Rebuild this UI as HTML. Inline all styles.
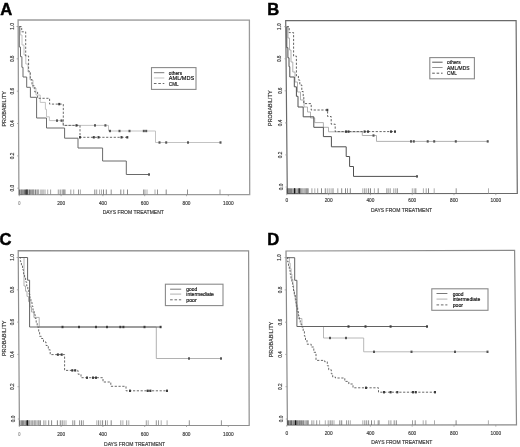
<!DOCTYPE html>
<html><head><meta charset="utf-8"><style>
html,body{margin:0;padding:0;background:#fff;}
body{width:520px;height:447px;overflow:hidden;}
svg{display:block;font-family:"Liberation Sans",sans-serif;filter:blur(0.35px);}
</style></head><body>
<svg width="520" height="447" viewBox="0 0 520 447">
<rect x="0" y="0" width="520" height="447" fill="#fff"/>
<path d="M18.1 19.9L249.4 20.1L249.7 194.6L18.9 194.6Z" fill="none" stroke="#9a9a9a" stroke-width="1.30" stroke-linejoin="miter"/>
<line x1="17.3" y1="188.2" x2="18.9" y2="188.2" stroke="#999" stroke-width="0.8"/>
<text x="14.3" y="188.2" font-size="5.50" text-anchor="middle" fill="#3a3a3a" stroke="#3a3a3a" stroke-width="0.18" font-weight="normal" transform="rotate(-90 14.3 188.2)" textLength="6.5" lengthAdjust="spacingAndGlyphs">0.0</text>
<line x1="17.1" y1="155.9" x2="18.7" y2="155.9" stroke="#999" stroke-width="0.8"/>
<text x="14.1" y="155.9" font-size="5.50" text-anchor="middle" fill="#3a3a3a" stroke="#3a3a3a" stroke-width="0.18" font-weight="normal" transform="rotate(-90 14.1 155.9)" textLength="6.5" lengthAdjust="spacingAndGlyphs">0.2</text>
<line x1="17.0" y1="123.5" x2="18.6" y2="123.5" stroke="#999" stroke-width="0.8"/>
<text x="14.0" y="123.5" font-size="5.50" text-anchor="middle" fill="#3a3a3a" stroke="#3a3a3a" stroke-width="0.18" font-weight="normal" transform="rotate(-90 14.0 123.5)" textLength="6.5" lengthAdjust="spacingAndGlyphs">0.4</text>
<line x1="16.8" y1="91.2" x2="18.4" y2="91.2" stroke="#999" stroke-width="0.8"/>
<text x="13.8" y="91.2" font-size="5.50" text-anchor="middle" fill="#3a3a3a" stroke="#3a3a3a" stroke-width="0.18" font-weight="normal" transform="rotate(-90 13.8 91.2)" textLength="6.5" lengthAdjust="spacingAndGlyphs">0.6</text>
<line x1="16.7" y1="58.8" x2="18.3" y2="58.8" stroke="#999" stroke-width="0.8"/>
<text x="13.7" y="58.8" font-size="5.50" text-anchor="middle" fill="#3a3a3a" stroke="#3a3a3a" stroke-width="0.18" font-weight="normal" transform="rotate(-90 13.7 58.8)" textLength="6.5" lengthAdjust="spacingAndGlyphs">0.8</text>
<line x1="16.5" y1="26.5" x2="18.1" y2="26.5" stroke="#999" stroke-width="0.8"/>
<text x="13.5" y="26.5" font-size="5.50" text-anchor="middle" fill="#3a3a3a" stroke="#3a3a3a" stroke-width="0.18" font-weight="normal" transform="rotate(-90 13.5 26.5)" textLength="6.5" lengthAdjust="spacingAndGlyphs">1.0</text>
<line x1="19.3" y1="194.6" x2="19.3" y2="196.2" stroke="#999" stroke-width="0.8"/>
<text x="19.3" y="204.5" font-size="5.20" text-anchor="middle" fill="#888" stroke="#888" stroke-width="0.18" font-weight="normal" textLength="2.2" lengthAdjust="spacingAndGlyphs">0</text>
<line x1="61.1" y1="194.6" x2="61.1" y2="196.2" stroke="#999" stroke-width="0.8"/>
<text x="61.1" y="204.5" font-size="5.80" text-anchor="middle" fill="#3a3a3a" stroke="#3a3a3a" stroke-width="0.18" font-weight="normal" textLength="7.9" lengthAdjust="spacingAndGlyphs">200</text>
<line x1="102.9" y1="194.6" x2="102.9" y2="196.2" stroke="#999" stroke-width="0.8"/>
<text x="102.9" y="204.5" font-size="5.80" text-anchor="middle" fill="#3a3a3a" stroke="#3a3a3a" stroke-width="0.18" font-weight="normal" textLength="7.9" lengthAdjust="spacingAndGlyphs">400</text>
<line x1="144.7" y1="194.6" x2="144.7" y2="196.2" stroke="#999" stroke-width="0.8"/>
<text x="144.7" y="204.5" font-size="5.80" text-anchor="middle" fill="#3a3a3a" stroke="#3a3a3a" stroke-width="0.18" font-weight="normal" textLength="7.9" lengthAdjust="spacingAndGlyphs">600</text>
<line x1="186.5" y1="194.6" x2="186.5" y2="196.2" stroke="#999" stroke-width="0.8"/>
<text x="186.5" y="204.5" font-size="5.80" text-anchor="middle" fill="#3a3a3a" stroke="#3a3a3a" stroke-width="0.18" font-weight="normal" textLength="7.9" lengthAdjust="spacingAndGlyphs">800</text>
<line x1="228.3" y1="194.6" x2="228.3" y2="196.2" stroke="#999" stroke-width="0.8"/>
<text x="228.3" y="204.5" font-size="5.80" text-anchor="middle" fill="#3a3a3a" stroke="#3a3a3a" stroke-width="0.18" font-weight="normal" textLength="10.6" lengthAdjust="spacingAndGlyphs">1000</text>
<text x="133.3" y="213.6" font-size="5.40" text-anchor="middle" fill="#3a3a3a" stroke="#3a3a3a" stroke-width="0.18" font-weight="normal" textLength="61.2" lengthAdjust="spacingAndGlyphs">DAYS FROM TREATMENT</text>
<text x="5.6" y="108.8" font-size="5.20" text-anchor="middle" fill="#3a3a3a" stroke="#3a3a3a" stroke-width="0.18" font-weight="normal" transform="rotate(-90 5.6 108.8)" textLength="35.5" lengthAdjust="spacingAndGlyphs">PROBABILITY</text>
<text x="0.2" y="14.6" font-size="16.6" font-weight="bold" fill="#000" stroke="#000" stroke-width="0.45">A</text>
<line x1="19.6" y1="189.5" x2="19.6" y2="194.6" stroke="#555" stroke-width="0.90"/>
<line x1="21.0" y1="189.5" x2="21.0" y2="194.6" stroke="#444" stroke-width="0.90"/>
<line x1="22.1" y1="189.5" x2="22.1" y2="194.6" stroke="#444" stroke-width="0.90"/>
<line x1="23.3" y1="189.5" x2="23.3" y2="194.6" stroke="#666" stroke-width="0.90"/>
<line x1="24.5" y1="189.5" x2="24.5" y2="194.6" stroke="#666" stroke-width="0.90"/>
<line x1="25.5" y1="189.5" x2="25.5" y2="194.6" stroke="#444" stroke-width="0.90"/>
<line x1="26.7" y1="189.5" x2="26.7" y2="194.6" stroke="#444" stroke-width="0.90"/>
<line x1="27.9" y1="189.5" x2="27.9" y2="194.6" stroke="#666" stroke-width="0.90"/>
<line x1="29.3" y1="189.5" x2="29.3" y2="194.6" stroke="#444" stroke-width="0.90"/>
<line x1="30.5" y1="189.5" x2="30.5" y2="194.6" stroke="#888" stroke-width="0.90"/>
<line x1="31.5" y1="189.5" x2="31.5" y2="194.6" stroke="#999" stroke-width="0.90"/>
<line x1="32.4" y1="189.5" x2="32.4" y2="194.6" stroke="#888" stroke-width="0.90"/>
<line x1="33.3" y1="189.5" x2="33.3" y2="194.6" stroke="#666" stroke-width="0.90"/>
<line x1="34.2" y1="189.5" x2="34.2" y2="194.6" stroke="#aaa" stroke-width="0.90"/>
<line x1="35.6" y1="189.5" x2="35.6" y2="194.6" stroke="#666" stroke-width="0.90"/>
<line x1="36.8" y1="189.5" x2="36.8" y2="194.6" stroke="#aaa" stroke-width="0.90"/>
<line x1="37.8" y1="189.5" x2="37.8" y2="194.6" stroke="#888" stroke-width="0.90"/>
<line x1="38.7" y1="189.5" x2="38.7" y2="194.6" stroke="#999" stroke-width="0.90"/>
<line x1="41.0" y1="189.5" x2="41.0" y2="194.6" stroke="#6a6a6a" stroke-width="0.80"/>
<line x1="43.0" y1="189.5" x2="43.0" y2="194.6" stroke="#6a6a6a" stroke-width="0.80"/>
<line x1="45.0" y1="189.5" x2="45.0" y2="194.6" stroke="#888" stroke-width="0.80"/>
<line x1="47.7" y1="189.5" x2="47.7" y2="194.6" stroke="#999" stroke-width="0.80"/>
<line x1="50.6" y1="189.5" x2="50.6" y2="194.6" stroke="#888" stroke-width="0.80"/>
<line x1="58.3" y1="189.5" x2="58.3" y2="194.6" stroke="#888" stroke-width="0.80"/>
<line x1="60.2" y1="189.5" x2="60.2" y2="194.6" stroke="#6a6a6a" stroke-width="0.80"/>
<line x1="62.1" y1="189.5" x2="62.1" y2="194.6" stroke="#999" stroke-width="0.80"/>
<line x1="63.1" y1="189.5" x2="63.1" y2="194.6" stroke="#777" stroke-width="0.80"/>
<line x1="64.0" y1="189.5" x2="64.0" y2="194.6" stroke="#6a6a6a" stroke-width="0.80"/>
<line x1="65.0" y1="189.5" x2="65.0" y2="194.6" stroke="#777" stroke-width="0.80"/>
<line x1="70.8" y1="189.5" x2="70.8" y2="194.6" stroke="#888" stroke-width="0.80"/>
<line x1="73.7" y1="189.5" x2="73.7" y2="194.6" stroke="#999" stroke-width="0.80"/>
<line x1="78.5" y1="189.5" x2="78.5" y2="194.6" stroke="#777" stroke-width="0.80"/>
<line x1="80.4" y1="189.5" x2="80.4" y2="194.6" stroke="#999" stroke-width="0.80"/>
<line x1="94.8" y1="189.5" x2="94.8" y2="194.6" stroke="#6a6a6a" stroke-width="0.80"/>
<line x1="96.7" y1="189.5" x2="96.7" y2="194.6" stroke="#888" stroke-width="0.80"/>
<line x1="99.6" y1="189.5" x2="99.6" y2="194.6" stroke="#999" stroke-width="0.80"/>
<line x1="101.5" y1="189.5" x2="101.5" y2="194.6" stroke="#999" stroke-width="0.80"/>
<line x1="103.5" y1="189.5" x2="103.5" y2="194.6" stroke="#6a6a6a" stroke-width="0.80"/>
<line x1="106.3" y1="189.5" x2="106.3" y2="194.6" stroke="#6a6a6a" stroke-width="0.80"/>
<line x1="111.2" y1="189.5" x2="111.2" y2="194.6" stroke="#777" stroke-width="0.80"/>
<line x1="120.8" y1="189.5" x2="120.8" y2="194.6" stroke="#6a6a6a" stroke-width="0.80"/>
<line x1="123.7" y1="189.5" x2="123.7" y2="194.6" stroke="#888" stroke-width="0.80"/>
<line x1="127.5" y1="189.5" x2="127.5" y2="194.6" stroke="#6a6a6a" stroke-width="0.80"/>
<line x1="143.7" y1="189.5" x2="143.7" y2="194.6" stroke="#6a6a6a" stroke-width="0.80"/>
<line x1="145.0" y1="189.5" x2="145.0" y2="194.6" stroke="#888" stroke-width="0.80"/>
<line x1="147.0" y1="189.5" x2="147.0" y2="194.6" stroke="#999" stroke-width="0.80"/>
<line x1="155.0" y1="189.5" x2="155.0" y2="194.6" stroke="#999" stroke-width="0.80"/>
<line x1="157.5" y1="189.5" x2="157.5" y2="194.6" stroke="#777" stroke-width="0.80"/>
<line x1="166.2" y1="189.5" x2="166.2" y2="194.6" stroke="#6a6a6a" stroke-width="0.80"/>
<line x1="187.5" y1="189.5" x2="187.5" y2="194.6" stroke="#777" stroke-width="0.80"/>
<line x1="220.0" y1="189.5" x2="220.0" y2="194.6" stroke="#888" stroke-width="0.80"/>
<line x1="27.0" y1="189.5" x2="27.0" y2="194.6" stroke="#111" stroke-width="1.10"/>
<path d="M19.3 26.5L20.3 26.5L20.3 35.0L22.0 35.0L22.0 45.0L24.0 45.0L24.0 55.0L25.8 55.0L25.8 64.0L28.0 64.0L28.0 72.0L30.0 72.0L30.0 80.0L33.0 80.0L33.0 88.0L36.0 88.0L36.0 95.0L40.2 95.0L40.2 102.4L45.4 102.4L45.4 109.3L46.5 109.3L46.5 116.8L49.4 116.8L49.4 120.6L63.0 120.6L63.0 125.4L108.5 125.4L108.5 131.0L155.5 131.0L155.5 142.5L221.0 142.5" fill="none" stroke="#bcbcbc" stroke-width="0.90"/>
<path d="M19.3 26.5L19.3 47.0L20.5 47.0L20.5 56.7L21.9 56.7L21.9 67.3L23.0 67.3L23.0 77.0L26.7 77.0L26.7 87.3L30.4 87.3L30.4 97.3L36.6 97.3L36.6 118.0L46.5 118.0L46.5 128.0L64.6 128.0L64.6 138.2L78.0 138.2L78.0 148.0L102.6 148.0L102.6 161.0L126.3 161.0L126.3 174.5L149.0 174.5" fill="none" stroke="#6a6a6a" stroke-width="1.00"/>
<path d="M19.3 26.5L21.7 26.5L21.7 31.8L25.7 31.8L25.7 56.0L28.6 56.0L28.6 71.3L30.3 71.3L30.3 79.6L32.0 79.6L32.0 85.8L34.8 85.8L34.8 92.0L37.6 92.0L37.6 98.3L49.6 98.3L49.6 104.1L63.3 104.1L63.3 125.4L80.0 125.4L80.0 137.3L127.5 137.3" fill="none" stroke="#585858" stroke-width="0.90" stroke-dasharray="2.2 1.6"/>
<rect x="58.2" y="102.9" width="2.0" height="2.4" fill="#3c3c3c"/>
<rect x="75.5" y="124.2" width="2.0" height="2.4" fill="#3c3c3c"/>
<rect x="79.0" y="136.1" width="2.0" height="2.4" fill="#3c3c3c"/>
<rect x="92.8" y="136.1" width="2.0" height="2.4" fill="#3c3c3c"/>
<rect x="97.5" y="136.1" width="2.0" height="2.4" fill="#3c3c3c"/>
<rect x="120.5" y="136.1" width="2.0" height="2.4" fill="#3c3c3c"/>
<rect x="126.3" y="136.1" width="2.0" height="2.4" fill="#3c3c3c"/>
<rect x="56.0" y="119.4" width="2.0" height="2.4" fill="#555"/>
<rect x="60.5" y="119.4" width="2.0" height="2.4" fill="#555"/>
<rect x="94.0" y="124.2" width="2.0" height="2.4" fill="#555"/>
<rect x="104.4" y="124.2" width="2.0" height="2.4" fill="#555"/>
<rect x="109.0" y="129.8" width="2.0" height="2.4" fill="#555"/>
<rect x="118.5" y="129.8" width="2.0" height="2.4" fill="#555"/>
<rect x="128.5" y="129.8" width="2.0" height="2.4" fill="#555"/>
<rect x="142.8" y="129.8" width="2.0" height="2.4" fill="#555"/>
<rect x="145.2" y="129.8" width="2.0" height="2.4" fill="#555"/>
<rect x="158.5" y="141.3" width="2.0" height="2.4" fill="#555"/>
<rect x="165.2" y="141.3" width="2.0" height="2.4" fill="#555"/>
<rect x="187.0" y="141.3" width="2.0" height="2.4" fill="#555"/>
<rect x="219.5" y="141.3" width="2.0" height="2.4" fill="#555"/>
<rect x="148.0" y="173.3" width="2.0" height="2.4" fill="#555"/>
<rect x="151.5" y="67.6" width="44.5" height="21.8" fill="#fff" stroke="#8a8a8a" stroke-width="1.1"/>
<line x1="153.9" y1="72.7" x2="164.3" y2="72.7" stroke="#6a6a6a" stroke-width="0.90"/>
<text x="168.8" y="74.7" font-size="6.00" text-anchor="start" fill="#111" stroke="#111" stroke-width="0.18" font-weight="normal" textLength="13.3" lengthAdjust="spacingAndGlyphs">others</text>
<line x1="153.9" y1="78.0" x2="164.3" y2="78.0" stroke="#bcbcbc" stroke-width="0.90"/>
<text x="168.8" y="80.0" font-size="6.00" text-anchor="start" fill="#111" stroke="#111" stroke-width="0.18" font-weight="normal" textLength="25.4" lengthAdjust="spacingAndGlyphs">AML/MDS</text>
<line x1="153.9" y1="83.5" x2="164.3" y2="83.5" stroke="#585858" stroke-width="0.90" stroke-dasharray="2.6 1.8"/>
<text x="168.8" y="85.5" font-size="6.00" text-anchor="start" fill="#111" stroke="#111" stroke-width="0.18" font-weight="normal" textLength="9.8" lengthAdjust="spacingAndGlyphs">CML</text>
<path d="M285.7 20.5L516.1 20.6L517.3 193.5L287.3 193.6Z" fill="none" stroke="#6a6a6a" stroke-width="1.20" stroke-linejoin="miter"/>
<line x1="285.6" y1="187.0" x2="287.2" y2="187.0" stroke="#999" stroke-width="0.8"/>
<text x="282.6" y="187.0" font-size="5.50" text-anchor="middle" fill="#3a3a3a" stroke="#3a3a3a" stroke-width="0.18" font-weight="normal" transform="rotate(-90 282.6 187.0)" textLength="6.5" lengthAdjust="spacingAndGlyphs">0.0</text>
<line x1="285.3" y1="154.9" x2="286.9" y2="154.9" stroke="#999" stroke-width="0.8"/>
<text x="282.3" y="154.9" font-size="5.50" text-anchor="middle" fill="#3a3a3a" stroke="#3a3a3a" stroke-width="0.18" font-weight="normal" transform="rotate(-90 282.3 154.9)" textLength="6.5" lengthAdjust="spacingAndGlyphs">0.2</text>
<line x1="285.0" y1="122.9" x2="286.6" y2="122.9" stroke="#999" stroke-width="0.8"/>
<text x="282.0" y="122.9" font-size="5.50" text-anchor="middle" fill="#3a3a3a" stroke="#3a3a3a" stroke-width="0.18" font-weight="normal" transform="rotate(-90 282.0 122.9)" textLength="6.5" lengthAdjust="spacingAndGlyphs">0.4</text>
<line x1="284.7" y1="90.8" x2="286.3" y2="90.8" stroke="#999" stroke-width="0.8"/>
<text x="281.7" y="90.8" font-size="5.50" text-anchor="middle" fill="#3a3a3a" stroke="#3a3a3a" stroke-width="0.18" font-weight="normal" transform="rotate(-90 281.7 90.8)" textLength="6.5" lengthAdjust="spacingAndGlyphs">0.6</text>
<line x1="284.5" y1="58.8" x2="286.1" y2="58.8" stroke="#999" stroke-width="0.8"/>
<text x="281.5" y="58.8" font-size="5.50" text-anchor="middle" fill="#3a3a3a" stroke="#3a3a3a" stroke-width="0.18" font-weight="normal" transform="rotate(-90 281.5 58.8)" textLength="6.5" lengthAdjust="spacingAndGlyphs">0.8</text>
<line x1="284.2" y1="26.7" x2="285.8" y2="26.7" stroke="#999" stroke-width="0.8"/>
<text x="281.2" y="26.7" font-size="5.50" text-anchor="middle" fill="#3a3a3a" stroke="#3a3a3a" stroke-width="0.18" font-weight="normal" transform="rotate(-90 281.2 26.7)" textLength="6.5" lengthAdjust="spacingAndGlyphs">1.0</text>
<line x1="286.8" y1="193.6" x2="286.8" y2="195.2" stroke="#999" stroke-width="0.8"/>
<text x="286.8" y="202.3" font-size="5.80" text-anchor="middle" fill="#3a3a3a" stroke="#3a3a3a" stroke-width="0.18" font-weight="normal" textLength="2.7" lengthAdjust="spacingAndGlyphs">0</text>
<line x1="328.6" y1="193.6" x2="328.6" y2="195.2" stroke="#999" stroke-width="0.8"/>
<text x="328.6" y="202.3" font-size="5.80" text-anchor="middle" fill="#3a3a3a" stroke="#3a3a3a" stroke-width="0.18" font-weight="normal" textLength="7.9" lengthAdjust="spacingAndGlyphs">200</text>
<line x1="370.4" y1="193.6" x2="370.4" y2="195.2" stroke="#999" stroke-width="0.8"/>
<text x="370.4" y="202.3" font-size="5.80" text-anchor="middle" fill="#3a3a3a" stroke="#3a3a3a" stroke-width="0.18" font-weight="normal" textLength="7.9" lengthAdjust="spacingAndGlyphs">400</text>
<line x1="412.2" y1="193.6" x2="412.2" y2="195.2" stroke="#999" stroke-width="0.8"/>
<text x="412.2" y="202.3" font-size="5.80" text-anchor="middle" fill="#3a3a3a" stroke="#3a3a3a" stroke-width="0.18" font-weight="normal" textLength="7.9" lengthAdjust="spacingAndGlyphs">600</text>
<line x1="454.0" y1="193.6" x2="454.0" y2="195.2" stroke="#999" stroke-width="0.8"/>
<text x="454.0" y="202.3" font-size="5.80" text-anchor="middle" fill="#3a3a3a" stroke="#3a3a3a" stroke-width="0.18" font-weight="normal" textLength="7.9" lengthAdjust="spacingAndGlyphs">800</text>
<line x1="495.8" y1="193.6" x2="495.8" y2="195.2" stroke="#999" stroke-width="0.8"/>
<text x="495.8" y="202.3" font-size="5.80" text-anchor="middle" fill="#3a3a3a" stroke="#3a3a3a" stroke-width="0.18" font-weight="normal" textLength="10.6" lengthAdjust="spacingAndGlyphs">1000</text>
<text x="401.5" y="212.3" font-size="5.40" text-anchor="middle" fill="#3a3a3a" stroke="#3a3a3a" stroke-width="0.18" font-weight="normal" textLength="61.2" lengthAdjust="spacingAndGlyphs">DAYS FROM TREATMENT</text>
<text x="271.9" y="108.2" font-size="5.20" text-anchor="middle" fill="#3a3a3a" stroke="#3a3a3a" stroke-width="0.18" font-weight="normal" transform="rotate(-90 271.9 108.2)" textLength="35.5" lengthAdjust="spacingAndGlyphs">PROBABILITY</text>
<text x="267.3" y="15.0" font-size="16.6" font-weight="bold" fill="#000" stroke="#000" stroke-width="0.45">B</text>
<line x1="287.2" y1="188.3" x2="287.2" y2="193.6" stroke="#444" stroke-width="0.90"/>
<line x1="288.1" y1="188.3" x2="288.1" y2="193.6" stroke="#444" stroke-width="0.90"/>
<line x1="289.2" y1="188.3" x2="289.2" y2="193.6" stroke="#555" stroke-width="0.90"/>
<line x1="290.3" y1="188.3" x2="290.3" y2="193.6" stroke="#555" stroke-width="0.90"/>
<line x1="291.7" y1="188.3" x2="291.7" y2="193.6" stroke="#555" stroke-width="0.90"/>
<line x1="293.1" y1="188.3" x2="293.1" y2="193.6" stroke="#444" stroke-width="0.90"/>
<line x1="294.5" y1="188.3" x2="294.5" y2="193.6" stroke="#555" stroke-width="0.90"/>
<line x1="295.7" y1="188.3" x2="295.7" y2="193.6" stroke="#666" stroke-width="0.90"/>
<line x1="297.1" y1="188.3" x2="297.1" y2="193.6" stroke="#555" stroke-width="0.90"/>
<line x1="298.5" y1="188.3" x2="298.5" y2="193.6" stroke="#888" stroke-width="0.90"/>
<line x1="299.9" y1="188.3" x2="299.9" y2="193.6" stroke="#888" stroke-width="0.90"/>
<line x1="300.8" y1="188.3" x2="300.8" y2="193.6" stroke="#666" stroke-width="0.90"/>
<line x1="301.9" y1="188.3" x2="301.9" y2="193.6" stroke="#888" stroke-width="0.90"/>
<line x1="303.0" y1="188.3" x2="303.0" y2="193.6" stroke="#888" stroke-width="0.90"/>
<line x1="304.2" y1="188.3" x2="304.2" y2="193.6" stroke="#999" stroke-width="0.90"/>
<line x1="305.2" y1="188.3" x2="305.2" y2="193.6" stroke="#999" stroke-width="0.90"/>
<line x1="306.2" y1="188.3" x2="306.2" y2="193.6" stroke="#777" stroke-width="0.90"/>
<line x1="307.2" y1="188.3" x2="307.2" y2="193.6" stroke="#666" stroke-width="0.90"/>
<line x1="308.2" y1="188.3" x2="308.2" y2="193.6" stroke="#888" stroke-width="0.90"/>
<line x1="311.9" y1="188.3" x2="311.9" y2="193.6" stroke="#888" stroke-width="0.80"/>
<line x1="314.8" y1="188.3" x2="314.8" y2="193.6" stroke="#999" stroke-width="0.80"/>
<line x1="317.7" y1="188.3" x2="317.7" y2="193.6" stroke="#888" stroke-width="0.80"/>
<line x1="321.5" y1="188.3" x2="321.5" y2="193.6" stroke="#6a6a6a" stroke-width="0.80"/>
<line x1="325.3" y1="188.3" x2="325.3" y2="193.6" stroke="#6a6a6a" stroke-width="0.80"/>
<line x1="327.3" y1="188.3" x2="327.3" y2="193.6" stroke="#999" stroke-width="0.80"/>
<line x1="329.2" y1="188.3" x2="329.2" y2="193.6" stroke="#999" stroke-width="0.80"/>
<line x1="331.1" y1="188.3" x2="331.1" y2="193.6" stroke="#999" stroke-width="0.80"/>
<line x1="333.0" y1="188.3" x2="333.0" y2="193.6" stroke="#6a6a6a" stroke-width="0.80"/>
<line x1="337.8" y1="188.3" x2="337.8" y2="193.6" stroke="#888" stroke-width="0.80"/>
<line x1="341.7" y1="188.3" x2="341.7" y2="193.6" stroke="#6a6a6a" stroke-width="0.80"/>
<line x1="345.5" y1="188.3" x2="345.5" y2="193.6" stroke="#6a6a6a" stroke-width="0.80"/>
<line x1="347.5" y1="188.3" x2="347.5" y2="193.6" stroke="#888" stroke-width="0.80"/>
<line x1="350.3" y1="188.3" x2="350.3" y2="193.6" stroke="#6a6a6a" stroke-width="0.80"/>
<line x1="362.8" y1="188.3" x2="362.8" y2="193.6" stroke="#999" stroke-width="0.80"/>
<line x1="364.8" y1="188.3" x2="364.8" y2="193.6" stroke="#6a6a6a" stroke-width="0.80"/>
<line x1="366.7" y1="188.3" x2="366.7" y2="193.6" stroke="#999" stroke-width="0.80"/>
<line x1="368.6" y1="188.3" x2="368.6" y2="193.6" stroke="#6a6a6a" stroke-width="0.80"/>
<line x1="370.5" y1="188.3" x2="370.5" y2="193.6" stroke="#6a6a6a" stroke-width="0.80"/>
<line x1="374.4" y1="188.3" x2="374.4" y2="193.6" stroke="#999" stroke-width="0.80"/>
<line x1="378.2" y1="188.3" x2="378.2" y2="193.6" stroke="#6a6a6a" stroke-width="0.80"/>
<line x1="386.9" y1="188.3" x2="386.9" y2="193.6" stroke="#6a6a6a" stroke-width="0.80"/>
<line x1="388.8" y1="188.3" x2="388.8" y2="193.6" stroke="#888" stroke-width="0.80"/>
<line x1="390.4" y1="188.3" x2="390.4" y2="193.6" stroke="#999" stroke-width="0.80"/>
<line x1="393.8" y1="188.3" x2="393.8" y2="193.6" stroke="#888" stroke-width="0.80"/>
<line x1="395.7" y1="188.3" x2="395.7" y2="193.6" stroke="#999" stroke-width="0.80"/>
<line x1="397.3" y1="188.3" x2="397.3" y2="193.6" stroke="#6a6a6a" stroke-width="0.80"/>
<line x1="412.3" y1="188.3" x2="412.3" y2="193.6" stroke="#999" stroke-width="0.80"/>
<line x1="414.2" y1="188.3" x2="414.2" y2="193.6" stroke="#999" stroke-width="0.80"/>
<line x1="415.8" y1="188.3" x2="415.8" y2="193.6" stroke="#6a6a6a" stroke-width="0.80"/>
<line x1="423.4" y1="188.3" x2="423.4" y2="193.6" stroke="#999" stroke-width="0.80"/>
<line x1="426.2" y1="188.3" x2="426.2" y2="193.6" stroke="#888" stroke-width="0.80"/>
<line x1="428.5" y1="188.3" x2="428.5" y2="193.6" stroke="#6a6a6a" stroke-width="0.80"/>
<line x1="434.2" y1="188.3" x2="434.2" y2="193.6" stroke="#999" stroke-width="0.80"/>
<line x1="456.2" y1="188.3" x2="456.2" y2="193.6" stroke="#777" stroke-width="0.80"/>
<line x1="488.5" y1="188.3" x2="488.5" y2="193.6" stroke="#999" stroke-width="0.80"/>
<line x1="294.6" y1="188.3" x2="294.6" y2="193.6" stroke="#111" stroke-width="1.10"/>
<line x1="299.2" y1="188.3" x2="299.2" y2="193.6" stroke="#111" stroke-width="1.10"/>
<path d="M286.8 26.7L288.0 26.7L288.0 38.0L289.5 38.0L289.5 50.0L291.0 50.0L291.0 62.0L292.8 62.0L292.8 72.0L295.0 72.0L295.0 82.0L297.5 82.0L297.5 92.0L300.5 92.0L300.5 100.0L304.0 100.0L304.0 107.0L307.5 107.0L307.5 112.0L310.5 112.0L310.5 118.0L314.7 118.0L314.7 122.6L323.4 122.6L323.4 127.3L328.5 127.3L328.5 131.8L362.3 131.8L362.3 135.5L376.5 135.5L376.5 141.4L488.2 141.4" fill="none" stroke="#a8a8a8" stroke-width="0.90"/>
<path d="M286.8 26.7L286.8 47.7L287.9 47.7L287.9 57.8L289.0 57.8L289.0 66.7L289.8 66.7L289.8 77.0L294.3 77.0L294.3 86.8L296.4 86.8L296.4 96.3L298.0 96.3L298.0 107.0L303.2 107.0L303.2 116.8L313.8 116.8L313.8 127.3L323.4 127.3L323.4 136.6L331.4 136.6L331.4 146.8L346.2 146.8L346.2 156.5L349.6 156.5L349.6 166.5L353.5 166.5L353.5 176.4L417.0 176.4" fill="none" stroke="#505050" stroke-width="1.00"/>
<path d="M286.8 26.7L289.2 26.7L289.2 32.6L293.6 32.6L293.6 56.1L296.4 56.1L296.4 76.0L298.4 76.0L298.4 80.0L299.8 80.0L299.8 85.0L301.8 85.0L301.8 91.5L303.2 91.5L303.2 97.0L303.8 97.0L303.8 103.6L311.2 103.6L311.2 110.0L327.6 110.0L327.6 116.5L331.2 116.5L331.2 124.2L335.2 124.2L335.2 131.6L395.8 131.6" fill="none" stroke="#505050" stroke-width="0.90" stroke-dasharray="2.2 1.6"/>
<rect x="326.3" y="108.8" width="2.0" height="2.4" fill="#3c3c3c"/>
<rect x="345.0" y="130.4" width="2.0" height="2.4" fill="#3c3c3c"/>
<rect x="347.5" y="130.4" width="2.0" height="2.4" fill="#3c3c3c"/>
<rect x="363.6" y="130.4" width="2.0" height="2.4" fill="#3c3c3c"/>
<rect x="367.0" y="130.4" width="2.0" height="2.4" fill="#3c3c3c"/>
<rect x="390.0" y="130.4" width="2.0" height="2.4" fill="#3c3c3c"/>
<rect x="394.0" y="130.4" width="2.0" height="2.4" fill="#3c3c3c"/>
<rect x="372.5" y="134.3" width="2.0" height="2.4" fill="#555"/>
<rect x="410.0" y="140.2" width="2.0" height="2.4" fill="#555"/>
<rect x="412.8" y="140.2" width="2.0" height="2.4" fill="#555"/>
<rect x="426.7" y="140.2" width="2.0" height="2.4" fill="#555"/>
<rect x="433.2" y="140.2" width="2.0" height="2.4" fill="#555"/>
<rect x="454.8" y="140.2" width="2.0" height="2.4" fill="#555"/>
<rect x="486.7" y="140.2" width="2.0" height="2.4" fill="#555"/>
<rect x="416.0" y="175.2" width="2.0" height="2.4" fill="#555"/>
<rect x="429.8" y="57.6" width="44.6" height="21.2" fill="#fff" stroke="#8a8a8a" stroke-width="1.1"/>
<line x1="432.2" y1="62.2" x2="442.6" y2="62.2" stroke="#444" stroke-width="0.90"/>
<text x="447.1" y="64.2" font-size="6.00" text-anchor="start" fill="#111" stroke="#111" stroke-width="0.18" font-weight="normal" textLength="13.6" lengthAdjust="spacingAndGlyphs">others</text>
<line x1="432.2" y1="67.5" x2="442.6" y2="67.5" stroke="#888" stroke-width="0.90"/>
<text x="447.1" y="69.5" font-size="6.00" text-anchor="start" fill="#111" stroke="#111" stroke-width="0.18" font-weight="normal" textLength="22.4" lengthAdjust="spacingAndGlyphs">AML/MDS</text>
<line x1="432.2" y1="73.2" x2="442.6" y2="73.2" stroke="#444" stroke-width="0.90" stroke-dasharray="2.6 1.8"/>
<text x="447.1" y="75.2" font-size="6.00" text-anchor="start" fill="#111" stroke="#111" stroke-width="0.18" font-weight="normal" textLength="9.6" lengthAdjust="spacingAndGlyphs">CML</text>
<path d="M18.2 250.7L248.6 250.8L249.2 425.4L19.4 425.5Z" fill="none" stroke="#8e8e8e" stroke-width="1.20" stroke-linejoin="miter"/>
<line x1="17.8" y1="419.0" x2="19.4" y2="419.0" stroke="#999" stroke-width="0.8"/>
<text x="14.8" y="419.0" font-size="5.50" text-anchor="middle" fill="#3a3a3a" stroke="#3a3a3a" stroke-width="0.18" font-weight="normal" transform="rotate(-90 14.8 419.0)" textLength="6.5" lengthAdjust="spacingAndGlyphs">0.0</text>
<line x1="17.5" y1="386.7" x2="19.1" y2="386.7" stroke="#999" stroke-width="0.8"/>
<text x="14.5" y="386.7" font-size="5.50" text-anchor="middle" fill="#3a3a3a" stroke="#3a3a3a" stroke-width="0.18" font-weight="normal" transform="rotate(-90 14.5 386.7)" textLength="6.5" lengthAdjust="spacingAndGlyphs">0.2</text>
<line x1="17.3" y1="354.4" x2="18.9" y2="354.4" stroke="#999" stroke-width="0.8"/>
<text x="14.3" y="354.4" font-size="5.50" text-anchor="middle" fill="#3a3a3a" stroke="#3a3a3a" stroke-width="0.18" font-weight="normal" transform="rotate(-90 14.3 354.4)" textLength="6.5" lengthAdjust="spacingAndGlyphs">0.4</text>
<line x1="17.1" y1="322.1" x2="18.7" y2="322.1" stroke="#999" stroke-width="0.8"/>
<text x="14.1" y="322.1" font-size="5.50" text-anchor="middle" fill="#3a3a3a" stroke="#3a3a3a" stroke-width="0.18" font-weight="normal" transform="rotate(-90 14.1 322.1)" textLength="6.5" lengthAdjust="spacingAndGlyphs">0.6</text>
<line x1="16.9" y1="289.8" x2="18.5" y2="289.8" stroke="#999" stroke-width="0.8"/>
<text x="13.9" y="289.8" font-size="5.50" text-anchor="middle" fill="#3a3a3a" stroke="#3a3a3a" stroke-width="0.18" font-weight="normal" transform="rotate(-90 13.9 289.8)" textLength="6.5" lengthAdjust="spacingAndGlyphs">0.8</text>
<line x1="16.6" y1="257.5" x2="18.2" y2="257.5" stroke="#999" stroke-width="0.8"/>
<text x="13.6" y="257.5" font-size="5.50" text-anchor="middle" fill="#3a3a3a" stroke="#3a3a3a" stroke-width="0.18" font-weight="normal" transform="rotate(-90 13.6 257.5)" textLength="6.5" lengthAdjust="spacingAndGlyphs">1.0</text>
<line x1="19.3" y1="425.4" x2="19.3" y2="427.0" stroke="#999" stroke-width="0.8"/>
<text x="19.3" y="435.9" font-size="5.20" text-anchor="middle" fill="#888" stroke="#888" stroke-width="0.18" font-weight="normal" textLength="2.2" lengthAdjust="spacingAndGlyphs">0</text>
<line x1="61.1" y1="425.4" x2="61.1" y2="427.0" stroke="#999" stroke-width="0.8"/>
<text x="61.1" y="435.9" font-size="5.80" text-anchor="middle" fill="#3a3a3a" stroke="#3a3a3a" stroke-width="0.18" font-weight="normal" textLength="7.9" lengthAdjust="spacingAndGlyphs">200</text>
<line x1="102.9" y1="425.4" x2="102.9" y2="427.0" stroke="#999" stroke-width="0.8"/>
<text x="102.9" y="435.9" font-size="5.80" text-anchor="middle" fill="#3a3a3a" stroke="#3a3a3a" stroke-width="0.18" font-weight="normal" textLength="7.9" lengthAdjust="spacingAndGlyphs">400</text>
<line x1="144.7" y1="425.4" x2="144.7" y2="427.0" stroke="#999" stroke-width="0.8"/>
<text x="144.7" y="435.9" font-size="5.80" text-anchor="middle" fill="#3a3a3a" stroke="#3a3a3a" stroke-width="0.18" font-weight="normal" textLength="7.9" lengthAdjust="spacingAndGlyphs">600</text>
<line x1="186.5" y1="425.4" x2="186.5" y2="427.0" stroke="#999" stroke-width="0.8"/>
<text x="186.5" y="435.9" font-size="5.80" text-anchor="middle" fill="#3a3a3a" stroke="#3a3a3a" stroke-width="0.18" font-weight="normal" textLength="7.9" lengthAdjust="spacingAndGlyphs">800</text>
<line x1="228.3" y1="425.4" x2="228.3" y2="427.0" stroke="#999" stroke-width="0.8"/>
<text x="228.3" y="435.9" font-size="5.80" text-anchor="middle" fill="#3a3a3a" stroke="#3a3a3a" stroke-width="0.18" font-weight="normal" textLength="10.6" lengthAdjust="spacingAndGlyphs">1000</text>
<text x="134.6" y="445.6" font-size="5.40" text-anchor="middle" fill="#3a3a3a" stroke="#3a3a3a" stroke-width="0.18" font-weight="normal" textLength="61.2" lengthAdjust="spacingAndGlyphs">DAYS FROM TREATMENT</text>
<text x="5.8" y="338.3" font-size="5.20" text-anchor="middle" fill="#3a3a3a" stroke="#3a3a3a" stroke-width="0.18" font-weight="normal" transform="rotate(-90 5.8 338.3)" textLength="35.5" lengthAdjust="spacingAndGlyphs">PROBABILITY</text>
<text x="-0.6" y="244.8" font-size="16.6" font-weight="bold" fill="#000" stroke="#000" stroke-width="0.45">C</text>
<line x1="19.9" y1="420.3" x2="19.9" y2="425.4" stroke="#555" stroke-width="0.90"/>
<line x1="21.3" y1="420.3" x2="21.3" y2="425.4" stroke="#777" stroke-width="0.90"/>
<line x1="22.3" y1="420.3" x2="22.3" y2="425.4" stroke="#555" stroke-width="0.90"/>
<line x1="23.7" y1="420.3" x2="23.7" y2="425.4" stroke="#666" stroke-width="0.90"/>
<line x1="25.1" y1="420.3" x2="25.1" y2="425.4" stroke="#444" stroke-width="0.90"/>
<line x1="26.5" y1="420.3" x2="26.5" y2="425.4" stroke="#444" stroke-width="0.90"/>
<line x1="27.7" y1="420.3" x2="27.7" y2="425.4" stroke="#555" stroke-width="0.90"/>
<line x1="29.1" y1="420.3" x2="29.1" y2="425.4" stroke="#555" stroke-width="0.90"/>
<line x1="30.1" y1="420.3" x2="30.1" y2="425.4" stroke="#aaa" stroke-width="0.90"/>
<line x1="31.3" y1="420.3" x2="31.3" y2="425.4" stroke="#999" stroke-width="0.90"/>
<line x1="32.7" y1="420.3" x2="32.7" y2="425.4" stroke="#888" stroke-width="0.90"/>
<line x1="33.9" y1="420.3" x2="33.9" y2="425.4" stroke="#aaa" stroke-width="0.90"/>
<line x1="34.9" y1="420.3" x2="34.9" y2="425.4" stroke="#777" stroke-width="0.90"/>
<line x1="35.9" y1="420.3" x2="35.9" y2="425.4" stroke="#999" stroke-width="0.90"/>
<line x1="37.1" y1="420.3" x2="37.1" y2="425.4" stroke="#aaa" stroke-width="0.90"/>
<line x1="38.0" y1="420.3" x2="38.0" y2="425.4" stroke="#aaa" stroke-width="0.90"/>
<line x1="38.9" y1="420.3" x2="38.9" y2="425.4" stroke="#777" stroke-width="0.90"/>
<line x1="40.3" y1="420.3" x2="40.3" y2="425.4" stroke="#666" stroke-width="0.90"/>
<line x1="43.9" y1="420.3" x2="43.9" y2="425.4" stroke="#777" stroke-width="0.80"/>
<line x1="45.8" y1="420.3" x2="45.8" y2="425.4" stroke="#999" stroke-width="0.80"/>
<line x1="48.7" y1="420.3" x2="48.7" y2="425.4" stroke="#6a6a6a" stroke-width="0.80"/>
<line x1="51.6" y1="420.3" x2="51.6" y2="425.4" stroke="#6a6a6a" stroke-width="0.80"/>
<line x1="57.4" y1="420.3" x2="57.4" y2="425.4" stroke="#6a6a6a" stroke-width="0.80"/>
<line x1="60.3" y1="420.3" x2="60.3" y2="425.4" stroke="#6a6a6a" stroke-width="0.80"/>
<line x1="62.2" y1="420.3" x2="62.2" y2="425.4" stroke="#6a6a6a" stroke-width="0.80"/>
<line x1="64.1" y1="420.3" x2="64.1" y2="425.4" stroke="#888" stroke-width="0.80"/>
<line x1="66.0" y1="420.3" x2="66.0" y2="425.4" stroke="#999" stroke-width="0.80"/>
<line x1="72.8" y1="420.3" x2="72.8" y2="425.4" stroke="#777" stroke-width="0.80"/>
<line x1="74.7" y1="420.3" x2="74.7" y2="425.4" stroke="#777" stroke-width="0.80"/>
<line x1="79.5" y1="420.3" x2="79.5" y2="425.4" stroke="#888" stroke-width="0.80"/>
<line x1="81.4" y1="420.3" x2="81.4" y2="425.4" stroke="#6a6a6a" stroke-width="0.80"/>
<line x1="83.3" y1="420.3" x2="83.3" y2="425.4" stroke="#888" stroke-width="0.80"/>
<line x1="96.8" y1="420.3" x2="96.8" y2="425.4" stroke="#999" stroke-width="0.80"/>
<line x1="98.7" y1="420.3" x2="98.7" y2="425.4" stroke="#6a6a6a" stroke-width="0.80"/>
<line x1="100.7" y1="420.3" x2="100.7" y2="425.4" stroke="#999" stroke-width="0.80"/>
<line x1="102.6" y1="420.3" x2="102.6" y2="425.4" stroke="#6a6a6a" stroke-width="0.80"/>
<line x1="105.5" y1="420.3" x2="105.5" y2="425.4" stroke="#6a6a6a" stroke-width="0.80"/>
<line x1="107.4" y1="420.3" x2="107.4" y2="425.4" stroke="#999" stroke-width="0.80"/>
<line x1="111.2" y1="420.3" x2="111.2" y2="425.4" stroke="#6a6a6a" stroke-width="0.80"/>
<line x1="120.8" y1="420.3" x2="120.8" y2="425.4" stroke="#888" stroke-width="0.80"/>
<line x1="122.9" y1="420.3" x2="122.9" y2="425.4" stroke="#999" stroke-width="0.80"/>
<line x1="126.7" y1="420.3" x2="126.7" y2="425.4" stroke="#777" stroke-width="0.80"/>
<line x1="128.8" y1="420.3" x2="128.8" y2="425.4" stroke="#999" stroke-width="0.80"/>
<line x1="146.3" y1="420.3" x2="146.3" y2="425.4" stroke="#888" stroke-width="0.80"/>
<line x1="148.2" y1="420.3" x2="148.2" y2="425.4" stroke="#999" stroke-width="0.80"/>
<line x1="156.3" y1="420.3" x2="156.3" y2="425.4" stroke="#777" stroke-width="0.80"/>
<line x1="158.5" y1="420.3" x2="158.5" y2="425.4" stroke="#888" stroke-width="0.80"/>
<line x1="161.2" y1="420.3" x2="161.2" y2="425.4" stroke="#999" stroke-width="0.80"/>
<line x1="167.1" y1="420.3" x2="167.1" y2="425.4" stroke="#999" stroke-width="0.80"/>
<line x1="189.3" y1="420.3" x2="189.3" y2="425.4" stroke="#777" stroke-width="0.80"/>
<line x1="221.4" y1="420.3" x2="221.4" y2="425.4" stroke="#777" stroke-width="0.80"/>
<line x1="27.6" y1="420.3" x2="27.6" y2="425.4" stroke="#111" stroke-width="1.10"/>
<path d="M19.3 257.5L24.0 257.5L24.0 286.0L25.5 286.0L25.5 291.2L27.0 291.2L27.0 296.4L28.5 296.4L28.5 301.6L30.0 301.6L30.0 306.8L31.5 306.8L31.5 312.0L33.9 312.0L33.9 317.4L39.2 317.4L39.2 327.0L156.3 327.0L156.3 358.5L221.0 358.5" fill="none" stroke="#a8a8a8" stroke-width="0.90"/>
<path d="M19.3 257.5L27.6 257.5L27.6 280.2L29.6 280.2L29.6 327.0L160.6 327.0" fill="none" stroke="#626262" stroke-width="1.00"/>
<path d="M19.3 257.5L20.4 257.5L20.4 261.6L21.4 261.6L21.4 265.6L22.5 265.6L22.5 269.7L23.5 269.7L23.5 273.8L24.6 273.8L24.6 277.8L25.6 277.8L25.6 281.9L26.7 281.9L26.7 285.9L27.8 285.9L27.8 290.0L28.8 290.0L28.8 294.1L29.9 294.1L29.9 298.1L30.9 298.1L30.9 302.2L32.0 302.2L32.0 306.2L33.0 306.2L33.0 310.3L34.1 310.3L34.1 314.4L35.1 314.4L35.1 318.4L36.2 318.4L36.2 322.5L37.2 322.5L37.2 327.0L38.7 327.0L38.7 331.5L39.6 331.5L39.6 336.3L41.5 336.3L41.5 338.5L43.5 338.5L43.5 342.0L46.0 342.0L46.0 345.5L48.3 345.5L48.3 349.8L50.2 349.8L50.2 354.6L64.6 354.6L64.6 370.4L78.0 370.4L78.0 374.2L81.0 374.2L81.0 377.7L103.0 377.7L103.0 382.0L110.8 382.0L110.8 386.3L126.0 386.3L126.0 390.8L168.0 390.8" fill="none" stroke="#585858" stroke-width="0.90" stroke-dasharray="2.2 1.6"/>
<rect x="61.5" y="325.8" width="2.0" height="2.4" fill="#3c3c3c"/>
<rect x="78.0" y="325.8" width="2.0" height="2.4" fill="#3c3c3c"/>
<rect x="95.0" y="325.8" width="2.0" height="2.4" fill="#3c3c3c"/>
<rect x="106.0" y="325.8" width="2.0" height="2.4" fill="#3c3c3c"/>
<rect x="119.3" y="325.8" width="2.0" height="2.4" fill="#3c3c3c"/>
<rect x="122.4" y="325.8" width="2.0" height="2.4" fill="#3c3c3c"/>
<rect x="143.5" y="325.8" width="2.0" height="2.4" fill="#3c3c3c"/>
<rect x="159.6" y="325.8" width="2.0" height="2.4" fill="#3c3c3c"/>
<rect x="188.0" y="357.3" width="2.0" height="2.4" fill="#555"/>
<rect x="220.0" y="357.3" width="2.0" height="2.4" fill="#555"/>
<rect x="56.9" y="353.4" width="2.0" height="2.4" fill="#3c3c3c"/>
<rect x="60.7" y="353.4" width="2.0" height="2.4" fill="#3c3c3c"/>
<rect x="71.3" y="369.2" width="2.0" height="2.4" fill="#3c3c3c"/>
<rect x="74.2" y="369.2" width="2.0" height="2.4" fill="#3c3c3c"/>
<rect x="86.0" y="376.5" width="2.0" height="2.4" fill="#3c3c3c"/>
<rect x="92.0" y="376.5" width="2.0" height="2.4" fill="#3c3c3c"/>
<rect x="95.0" y="376.5" width="2.0" height="2.4" fill="#3c3c3c"/>
<rect x="129.0" y="389.6" width="2.0" height="2.4" fill="#3c3c3c"/>
<rect x="146.7" y="389.6" width="2.0" height="2.4" fill="#3c3c3c"/>
<rect x="149.4" y="389.6" width="2.0" height="2.4" fill="#3c3c3c"/>
<rect x="166.0" y="389.6" width="2.0" height="2.4" fill="#3c3c3c"/>
<rect x="165.4" y="284.2" width="57.6" height="21.4" fill="#fff" stroke="#8a8a8a" stroke-width="1.1"/>
<line x1="170.1" y1="289.2" x2="181.2" y2="289.2" stroke="#6a6a6a" stroke-width="0.90"/>
<text x="186.3" y="291.2" font-size="6.00" text-anchor="start" fill="#111" stroke="#111" stroke-width="0.18" font-weight="normal" textLength="10.8" lengthAdjust="spacingAndGlyphs">good</text>
<line x1="170.1" y1="294.1" x2="181.2" y2="294.1" stroke="#a8a8a8" stroke-width="0.90"/>
<text x="186.3" y="296.1" font-size="6.00" text-anchor="start" fill="#111" stroke="#111" stroke-width="0.18" font-weight="normal" textLength="27.6" lengthAdjust="spacingAndGlyphs">intermediate</text>
<line x1="170.1" y1="299.8" x2="181.2" y2="299.8" stroke="#585858" stroke-width="0.90" stroke-dasharray="2.6 1.8"/>
<text x="186.3" y="301.8" font-size="6.00" text-anchor="start" fill="#111" stroke="#111" stroke-width="0.18" font-weight="normal" textLength="10.4" lengthAdjust="spacingAndGlyphs">poor</text>
<path d="M286.0 251.0L514.6 250.4L516.5 424.9L287.4 425.2Z" fill="none" stroke="#8a8a8a" stroke-width="1.20" stroke-linejoin="miter"/>
<line x1="285.8" y1="419.0" x2="287.4" y2="419.0" stroke="#999" stroke-width="0.8"/>
<text x="282.8" y="419.0" font-size="5.50" text-anchor="middle" fill="#3a3a3a" stroke="#3a3a3a" stroke-width="0.18" font-weight="normal" transform="rotate(-90 282.8 419.0)" textLength="6.5" lengthAdjust="spacingAndGlyphs">0.0</text>
<line x1="285.5" y1="386.7" x2="287.1" y2="386.7" stroke="#999" stroke-width="0.8"/>
<text x="282.5" y="386.7" font-size="5.50" text-anchor="middle" fill="#3a3a3a" stroke="#3a3a3a" stroke-width="0.18" font-weight="normal" transform="rotate(-90 282.5 386.7)" textLength="6.5" lengthAdjust="spacingAndGlyphs">0.2</text>
<line x1="285.2" y1="354.4" x2="286.8" y2="354.4" stroke="#999" stroke-width="0.8"/>
<text x="282.2" y="354.4" font-size="5.50" text-anchor="middle" fill="#3a3a3a" stroke="#3a3a3a" stroke-width="0.18" font-weight="normal" transform="rotate(-90 282.2 354.4)" textLength="6.5" lengthAdjust="spacingAndGlyphs">0.4</text>
<line x1="285.0" y1="322.2" x2="286.6" y2="322.2" stroke="#999" stroke-width="0.8"/>
<text x="282.0" y="322.2" font-size="5.50" text-anchor="middle" fill="#3a3a3a" stroke="#3a3a3a" stroke-width="0.18" font-weight="normal" transform="rotate(-90 282.0 322.2)" textLength="6.5" lengthAdjust="spacingAndGlyphs">0.6</text>
<line x1="284.7" y1="289.9" x2="286.3" y2="289.9" stroke="#999" stroke-width="0.8"/>
<text x="281.7" y="289.9" font-size="5.50" text-anchor="middle" fill="#3a3a3a" stroke="#3a3a3a" stroke-width="0.18" font-weight="normal" transform="rotate(-90 281.7 289.9)" textLength="6.5" lengthAdjust="spacingAndGlyphs">0.8</text>
<line x1="284.5" y1="257.6" x2="286.1" y2="257.6" stroke="#999" stroke-width="0.8"/>
<text x="281.5" y="257.6" font-size="5.50" text-anchor="middle" fill="#3a3a3a" stroke="#3a3a3a" stroke-width="0.18" font-weight="normal" transform="rotate(-90 281.5 257.6)" textLength="6.5" lengthAdjust="spacingAndGlyphs">1.0</text>
<line x1="286.8" y1="425.0" x2="286.8" y2="426.6" stroke="#999" stroke-width="0.8"/>
<text x="286.8" y="434.9" font-size="5.80" text-anchor="middle" fill="#3a3a3a" stroke="#3a3a3a" stroke-width="0.18" font-weight="normal" textLength="2.7" lengthAdjust="spacingAndGlyphs">0</text>
<line x1="328.6" y1="425.0" x2="328.6" y2="426.6" stroke="#999" stroke-width="0.8"/>
<text x="328.6" y="434.9" font-size="5.80" text-anchor="middle" fill="#3a3a3a" stroke="#3a3a3a" stroke-width="0.18" font-weight="normal" textLength="7.9" lengthAdjust="spacingAndGlyphs">200</text>
<line x1="370.4" y1="425.0" x2="370.4" y2="426.6" stroke="#999" stroke-width="0.8"/>
<text x="370.4" y="434.9" font-size="5.80" text-anchor="middle" fill="#3a3a3a" stroke="#3a3a3a" stroke-width="0.18" font-weight="normal" textLength="7.9" lengthAdjust="spacingAndGlyphs">400</text>
<line x1="412.2" y1="425.0" x2="412.2" y2="426.6" stroke="#999" stroke-width="0.8"/>
<text x="412.2" y="434.9" font-size="5.80" text-anchor="middle" fill="#3a3a3a" stroke="#3a3a3a" stroke-width="0.18" font-weight="normal" textLength="7.9" lengthAdjust="spacingAndGlyphs">600</text>
<line x1="454.0" y1="425.0" x2="454.0" y2="426.6" stroke="#999" stroke-width="0.8"/>
<text x="454.0" y="434.9" font-size="5.80" text-anchor="middle" fill="#3a3a3a" stroke="#3a3a3a" stroke-width="0.18" font-weight="normal" textLength="7.9" lengthAdjust="spacingAndGlyphs">800</text>
<line x1="495.8" y1="425.0" x2="495.8" y2="426.6" stroke="#999" stroke-width="0.8"/>
<text x="495.8" y="434.9" font-size="5.80" text-anchor="middle" fill="#3a3a3a" stroke="#3a3a3a" stroke-width="0.18" font-weight="normal" textLength="10.6" lengthAdjust="spacingAndGlyphs">1000</text>
<text x="401.8" y="444.2" font-size="5.40" text-anchor="middle" fill="#3a3a3a" stroke="#3a3a3a" stroke-width="0.18" font-weight="normal" textLength="61.2" lengthAdjust="spacingAndGlyphs">DAYS FROM TREATMENT</text>
<text x="272.6" y="339.5" font-size="5.20" text-anchor="middle" fill="#3a3a3a" stroke="#3a3a3a" stroke-width="0.18" font-weight="normal" transform="rotate(-90 272.6 339.5)" textLength="35.5" lengthAdjust="spacingAndGlyphs">PROBABILITY</text>
<text x="267.3" y="244.9" font-size="16.6" font-weight="bold" fill="#000" stroke="#000" stroke-width="0.45">D</text>
<line x1="287.5" y1="420.3" x2="287.5" y2="425.0" stroke="#555" stroke-width="0.90"/>
<line x1="288.6" y1="420.3" x2="288.6" y2="425.0" stroke="#444" stroke-width="0.90"/>
<line x1="289.8" y1="420.3" x2="289.8" y2="425.0" stroke="#666" stroke-width="0.90"/>
<line x1="290.8" y1="420.3" x2="290.8" y2="425.0" stroke="#444" stroke-width="0.90"/>
<line x1="291.7" y1="420.3" x2="291.7" y2="425.0" stroke="#444" stroke-width="0.90"/>
<line x1="292.9" y1="420.3" x2="292.9" y2="425.0" stroke="#777" stroke-width="0.90"/>
<line x1="294.0" y1="420.3" x2="294.0" y2="425.0" stroke="#444" stroke-width="0.90"/>
<line x1="295.0" y1="420.3" x2="295.0" y2="425.0" stroke="#777" stroke-width="0.90"/>
<line x1="296.4" y1="420.3" x2="296.4" y2="425.0" stroke="#555" stroke-width="0.90"/>
<line x1="297.5" y1="420.3" x2="297.5" y2="425.0" stroke="#777" stroke-width="0.90"/>
<line x1="298.4" y1="420.3" x2="298.4" y2="425.0" stroke="#888" stroke-width="0.90"/>
<line x1="299.4" y1="420.3" x2="299.4" y2="425.0" stroke="#666" stroke-width="0.90"/>
<line x1="300.5" y1="420.3" x2="300.5" y2="425.0" stroke="#888" stroke-width="0.90"/>
<line x1="301.5" y1="420.3" x2="301.5" y2="425.0" stroke="#777" stroke-width="0.90"/>
<line x1="302.6" y1="420.3" x2="302.6" y2="425.0" stroke="#888" stroke-width="0.90"/>
<line x1="303.7" y1="420.3" x2="303.7" y2="425.0" stroke="#666" stroke-width="0.90"/>
<line x1="305.1" y1="420.3" x2="305.1" y2="425.0" stroke="#888" stroke-width="0.90"/>
<line x1="306.3" y1="420.3" x2="306.3" y2="425.0" stroke="#999" stroke-width="0.90"/>
<line x1="307.3" y1="420.3" x2="307.3" y2="425.0" stroke="#777" stroke-width="0.90"/>
<line x1="308.3" y1="420.3" x2="308.3" y2="425.0" stroke="#888" stroke-width="0.90"/>
<line x1="311.9" y1="420.3" x2="311.9" y2="425.0" stroke="#777" stroke-width="0.80"/>
<line x1="313.8" y1="420.3" x2="313.8" y2="425.0" stroke="#999" stroke-width="0.80"/>
<line x1="316.7" y1="420.3" x2="316.7" y2="425.0" stroke="#777" stroke-width="0.80"/>
<line x1="319.6" y1="420.3" x2="319.6" y2="425.0" stroke="#999" stroke-width="0.80"/>
<line x1="325.3" y1="420.3" x2="325.3" y2="425.0" stroke="#999" stroke-width="0.80"/>
<line x1="328.2" y1="420.3" x2="328.2" y2="425.0" stroke="#888" stroke-width="0.80"/>
<line x1="330.2" y1="420.3" x2="330.2" y2="425.0" stroke="#6a6a6a" stroke-width="0.80"/>
<line x1="332.1" y1="420.3" x2="332.1" y2="425.0" stroke="#6a6a6a" stroke-width="0.80"/>
<line x1="334.0" y1="420.3" x2="334.0" y2="425.0" stroke="#999" stroke-width="0.80"/>
<line x1="339.8" y1="420.3" x2="339.8" y2="425.0" stroke="#6a6a6a" stroke-width="0.80"/>
<line x1="341.7" y1="420.3" x2="341.7" y2="425.0" stroke="#6a6a6a" stroke-width="0.80"/>
<line x1="346.5" y1="420.3" x2="346.5" y2="425.0" stroke="#888" stroke-width="0.80"/>
<line x1="348.4" y1="420.3" x2="348.4" y2="425.0" stroke="#888" stroke-width="0.80"/>
<line x1="350.3" y1="420.3" x2="350.3" y2="425.0" stroke="#999" stroke-width="0.80"/>
<line x1="362.8" y1="420.3" x2="362.8" y2="425.0" stroke="#999" stroke-width="0.80"/>
<line x1="364.8" y1="420.3" x2="364.8" y2="425.0" stroke="#777" stroke-width="0.80"/>
<line x1="366.7" y1="420.3" x2="366.7" y2="425.0" stroke="#777" stroke-width="0.80"/>
<line x1="368.6" y1="420.3" x2="368.6" y2="425.0" stroke="#777" stroke-width="0.80"/>
<line x1="371.5" y1="420.3" x2="371.5" y2="425.0" stroke="#6a6a6a" stroke-width="0.80"/>
<line x1="374.4" y1="420.3" x2="374.4" y2="425.0" stroke="#999" stroke-width="0.80"/>
<line x1="378.2" y1="420.3" x2="378.2" y2="425.0" stroke="#6a6a6a" stroke-width="0.80"/>
<line x1="379.3" y1="420.3" x2="379.3" y2="425.0" stroke="#999" stroke-width="0.80"/>
<line x1="388.8" y1="420.3" x2="388.8" y2="425.0" stroke="#888" stroke-width="0.80"/>
<line x1="390.9" y1="420.3" x2="390.9" y2="425.0" stroke="#888" stroke-width="0.80"/>
<line x1="394.2" y1="420.3" x2="394.2" y2="425.0" stroke="#777" stroke-width="0.80"/>
<line x1="396.3" y1="420.3" x2="396.3" y2="425.0" stroke="#6a6a6a" stroke-width="0.80"/>
<line x1="412.5" y1="420.3" x2="412.5" y2="425.0" stroke="#888" stroke-width="0.80"/>
<line x1="415.2" y1="420.3" x2="415.2" y2="425.0" stroke="#6a6a6a" stroke-width="0.80"/>
<line x1="423.2" y1="420.3" x2="423.2" y2="425.0" stroke="#999" stroke-width="0.80"/>
<line x1="425.9" y1="420.3" x2="425.9" y2="425.0" stroke="#888" stroke-width="0.80"/>
<line x1="434.5" y1="420.3" x2="434.5" y2="425.0" stroke="#999" stroke-width="0.80"/>
<line x1="456.1" y1="420.3" x2="456.1" y2="425.0" stroke="#6a6a6a" stroke-width="0.80"/>
<line x1="488.4" y1="420.3" x2="488.4" y2="425.0" stroke="#999" stroke-width="0.80"/>
<line x1="295.5" y1="420.3" x2="295.5" y2="425.0" stroke="#111" stroke-width="1.10"/>
<path d="M286.8 257.7L288.5 257.7L289.4 257.7L289.4 263.1L290.2 263.1L290.2 268.6L291.1 268.6L291.1 274.0L291.9 274.0L291.9 279.4L292.8 279.4L292.8 284.9L293.6 284.9L293.6 290.3L294.4 290.3L294.4 295.7L295.3 295.7L295.3 301.1L296.1 301.1L296.1 306.6L297.0 306.6L297.0 312.0L298.0 312.0L298.0 318.5L301.9 318.5L301.9 326.5L323.5 326.5L323.5 338.0L363.7 338.0L363.7 351.8L487.5 351.8" fill="none" stroke="#b0b0b0" stroke-width="0.90"/>
<path d="M286.8 257.7L294.7 257.7L294.7 280.3L296.9 280.3L296.9 326.5L427.0 326.5" fill="none" stroke="#626262" stroke-width="1.00"/>
<path d="M286.8 257.7L287.6 257.7L287.6 261.8L288.5 261.8L288.5 266.0L289.3 266.0L289.3 270.1L290.1 270.1L290.1 274.3L291.0 274.3L291.0 278.4L291.8 278.4L291.8 282.6L292.7 282.6L292.7 286.7L293.5 286.7L293.5 290.9L294.3 290.9L294.3 295.0L295.2 295.0L295.2 299.1L296.0 299.1L296.0 303.3L296.9 303.3L296.9 307.4L297.7 307.4L297.7 311.6L298.5 311.6L298.5 315.7L299.4 315.7L299.4 319.9L300.2 319.9L300.2 324.0L301.7 324.0L301.7 327.0L303.2 327.0L303.2 331.0L304.4 331.0L304.4 336.2L305.5 336.2L305.5 340.0L307.0 340.0L307.0 344.2L311.2 344.2L311.2 347.0L313.8 347.0L313.8 352.3L316.0 352.3L316.0 360.4L324.6 360.4L324.6 361.7L327.3 361.7L327.3 365.8L328.7 365.8L328.7 369.8L331.3 369.8L331.3 373.8L332.7 373.8L332.7 377.0L335.4 377.0L335.4 378.0L344.8 378.0L344.8 381.4L348.8 381.4L348.8 384.0L353.0 384.0L353.0 387.8L378.5 387.8L378.5 392.2L435.0 392.2" fill="none" stroke="#585858" stroke-width="0.90" stroke-dasharray="2.2 1.6"/>
<rect x="347.5" y="325.3" width="2.0" height="2.4" fill="#3c3c3c"/>
<rect x="364.5" y="325.3" width="2.0" height="2.4" fill="#3c3c3c"/>
<rect x="389.6" y="325.3" width="2.0" height="2.4" fill="#3c3c3c"/>
<rect x="426.0" y="325.3" width="2.0" height="2.4" fill="#3c3c3c"/>
<rect x="329.0" y="336.8" width="2.0" height="2.4" fill="#555"/>
<rect x="345.0" y="336.8" width="2.0" height="2.4" fill="#555"/>
<rect x="373.0" y="350.6" width="2.0" height="2.4" fill="#555"/>
<rect x="410.5" y="350.6" width="2.0" height="2.4" fill="#555"/>
<rect x="454.0" y="350.6" width="2.0" height="2.4" fill="#555"/>
<rect x="486.5" y="350.6" width="2.0" height="2.4" fill="#555"/>
<rect x="365.0" y="386.6" width="2.0" height="2.4" fill="#3c3c3c"/>
<rect x="383.0" y="391.0" width="2.0" height="2.4" fill="#3c3c3c"/>
<rect x="389.6" y="391.0" width="2.0" height="2.4" fill="#3c3c3c"/>
<rect x="396.3" y="391.0" width="2.0" height="2.4" fill="#3c3c3c"/>
<rect x="412.0" y="391.0" width="2.0" height="2.4" fill="#3c3c3c"/>
<rect x="414.8" y="391.0" width="2.0" height="2.4" fill="#3c3c3c"/>
<rect x="434.0" y="391.0" width="2.0" height="2.4" fill="#3c3c3c"/>
<rect x="431.8" y="288.8" width="56.2" height="21.5" fill="#fff" stroke="#8a8a8a" stroke-width="1.1"/>
<line x1="436.5" y1="293.5" x2="447.4" y2="293.5" stroke="#6a6a6a" stroke-width="0.90"/>
<text x="452.7" y="295.5" font-size="6.00" text-anchor="start" fill="#111" stroke="#111" stroke-width="0.18" font-weight="normal" textLength="10.8" lengthAdjust="spacingAndGlyphs">good</text>
<line x1="436.5" y1="299.1" x2="447.4" y2="299.1" stroke="#aaaaaa" stroke-width="0.90"/>
<text x="452.7" y="301.1" font-size="6.00" text-anchor="start" fill="#111" stroke="#111" stroke-width="0.18" font-weight="normal" textLength="27.6" lengthAdjust="spacingAndGlyphs">intermediate</text>
<line x1="436.5" y1="304.9" x2="447.4" y2="304.9" stroke="#585858" stroke-width="0.90" stroke-dasharray="2.6 1.8"/>
<text x="452.7" y="306.9" font-size="6.00" text-anchor="start" fill="#111" stroke="#111" stroke-width="0.18" font-weight="normal" textLength="10.4" lengthAdjust="spacingAndGlyphs">poor</text>
</svg>
</body></html>
